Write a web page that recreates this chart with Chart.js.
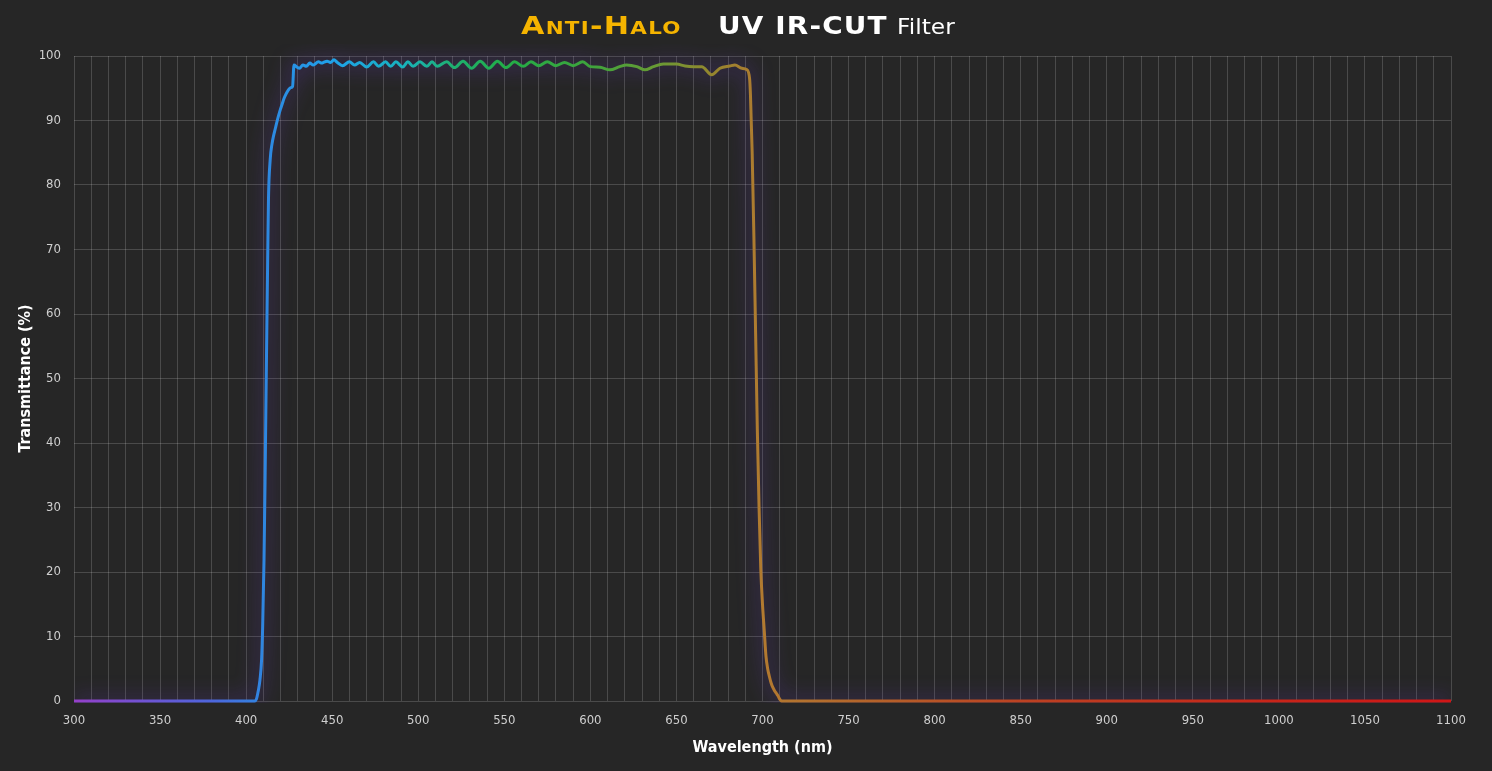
<!DOCTYPE html>
<html>
<head>
<meta charset="utf-8">
<script src="https://cdn.jsdelivr.net/npm/chart.js@4/dist/chart.umd.min.js"></script>
<style>
  html, body { margin: 0; padding: 0; background: #262626; }
  #wrap { position: relative; width: 1492px; height: 771px; }
  #title span {
    position: absolute; top: 12px; white-space: nowrap; display: inline-block;
    font-family: 'DejaVu Sans', sans-serif; color: #fff; transform-origin: left center;
  }
  #title .brand { left: 521px; color: #f5b400; font-weight: bold; font-variant: small-caps; font-size: 24px; letter-spacing: 1px; transform: scaleX(1.26); }
  #title .model { left: 718px; font-weight: bold; font-size: 24px; letter-spacing: 1px; transform: scaleX(1.16); }
  #title .kind { left: 897px; top: 14px; font-size: 22px; transform: scaleX(1.06); }
</style>
</head>
<body>
<div id="wrap">
  <div id="title"><span class="brand">Anti-Halo</span><span class="model">UV IR-CUT</span><span class="kind">Filter</span></div>
  <canvas id="spectrum" width="1492" height="771"></canvas>
</div>
<script>
// --- DATOS ---
const WAVELENGTHS = [
  300, 350, 400, 405, 406, 407, 408, 409, 409.6, 410.4, 411, 411.5, 412, 412.5, 413, 414,
  415, 416, 417, 418, 419, 420, 421, 422, 423, 424, 425, 426, 427, 427.8,
  429.5, 431, 433, 435, 437, 439, 442, 444, 445, 447, 449, 451, 453, 456, 460, 463,
  466, 470, 474, 477, 481, 484, 487, 491, 494, 497, 501, 505, 508, 511, 516.5, 521,
  526, 531, 536, 541, 546, 551, 556, 561, 565.5, 570, 575, 580, 585, 590, 595.5, 600,
  605.6, 611.4, 617, 621, 627, 631.7, 636.6, 642.4, 650, 655, 660, 664.7, 670.5, 675.3,
  681, 684, 688, 690.8, 692.5, 693, 694, 695, 696, 697, 698, 699, 700, 701, 702, 703,
  704, 705, 706, 707, 708, 709, 710, 711, 800, 900, 1000, 1100
];
const TRANSMITTANCE = [
  0, 0, 0, 0, 0.3, 1.5, 3.2, 6.5, 11.5, 22, 34, 46, 57, 68, 78, 84,
  86.3, 87.7, 88.8, 89.9, 90.9, 91.8, 92.6, 93.4, 94, 94.5, 94.9, 95.1, 95.3, 98.6,
  98.3, 98.1, 98.6, 98.4, 98.9, 98.6, 99.1, 98.9, 99.0, 99.2, 99.0, 99.4, 99.0, 98.5, 99.1, 98.6,
  99.0, 98.3, 99.1, 98.4, 99.1, 98.4, 99.1, 98.3, 99.1, 98.4, 99.1, 98.4, 99.1, 98.4, 99.1, 98.2,
  99.2, 98.1, 99.2, 98.1, 99.2, 98.2, 99.1, 98.4, 99.1, 98.5, 99.1, 98.5, 99.0, 98.5, 99.1, 98.35,
  98.25, 97.85, 98.35, 98.6, 98.35, 97.85, 98.35, 98.75, 98.75, 98.45, 98.35, 98.35, 97.1, 98.1,
  98.45, 98.6, 98.1, 97.9, 96.5, 94, 85, 72, 57, 42, 30, 20.5, 15, 11, 7, 5,
  3.8, 2.8, 2.1, 1.6, 1.2, 0.8, 0.3, 0, 0, 0, 0, 0
];

// colores del trazo según la longitud de onda
const COLOR_STOPS_NM = [300, 380, 410, 450, 490, 520, 550, 600, 640, 670, 700, 760, 850, 1000, 1100];
const COLOR_STOPS = ['#9440c8', '#4d66dc', '#2f86e0', '#1fa2ea', '#18b2bf', '#1eb070', '#22ad48', '#3ea43c',
  '#6a9a34', '#94862e', '#b27a30', '#b4642a', '#bc4222', '#c82418', '#d01616'];

const X_MIN = 300, X_MAX = 1100;
const TICK_FONT = "'DejaVu Sans Condensed', sans-serif";

function lineGradient(context) {
  const chart = context.chart;
  const { ctx, chartArea } = chart;
  if (!chartArea) return '#2f86e0';
  const g = ctx.createLinearGradient(chartArea.left, 0, chartArea.right, 0);
  COLOR_STOPS_NM.forEach((nm, i) => g.addColorStop((nm - X_MIN) / (X_MAX - X_MIN), COLOR_STOPS[i]));
  return g;
}

// brillo violeta alrededor de la curva
const glowPlugin = {
  id: 'glow',
  beforeDatasetDraw(chart) {
    chart.ctx.shadowColor = 'rgba(110, 60, 210, 0.85)';
    chart.ctx.shadowBlur = 20;
  },
  afterDatasetDraw(chart) {
    chart.ctx.shadowColor = 'rgba(0,0,0,0)';
    chart.ctx.shadowBlur = 0;
  }
};

const ctx = document.getElementById('spectrum').getContext('2d');
new Chart(ctx, {
  type: 'line',
  data: {
    datasets: [{
      data: WAVELENGTHS.map((nm, i) => ({ x: nm, y: TRANSMITTANCE[i] })),
      borderColor: lineGradient,
      borderWidth: 3,
      pointRadius: 0,
      cubicInterpolationMode: 'monotone',
      clip: { left: 0, top: 12, right: 0, bottom: 2 }
    }]
  },
  options: {
    responsive: false,
    animation: false,
    layout: { padding: { left: 10, right: 41, top: 56, bottom: 10 } },
    plugins: { legend: { display: false }, tooltip: { enabled: false } },
    scales: {
      x: {
        type: 'linear', min: X_MIN, max: X_MAX,
        grid: { color: 'rgba(255,255,255,0.17)', drawTicks: false },
        border: { display: false },
        ticks: {
          stepSize: 10, padding: 12, autoSkip: false, maxRotation: 0,
          color: '#cfcfcf', font: { family: TICK_FONT, size: 13 },
          callback: v => (v % 50 === 0 ? v : '')
        },
        title: { display: true, text: 'Wavelength (nm)', color: '#ffffff',
          font: { family: TICK_FONT, size: 16, weight: 'bold' }, padding: { top: 13 } },
        afterFit: s => { s.height = 60; }
      },
      y: {
        min: 0, max: 100,
        grid: { color: 'rgba(255,255,255,0.17)', drawTicks: false },
        border: { display: false },
        ticks: { stepSize: 10, padding: 13, color: '#cfcfcf', font: { family: TICK_FONT, size: 13 } },
        title: { display: true, text: 'Transmittance (%)', color: '#ffffff',
          font: { family: TICK_FONT, size: 16, weight: 'bold' }, padding: { top: 6, bottom: 0 } },
        afterFit: s => { s.width = 64; }
      }
    }
  },
  plugins: [glowPlugin]
});
</script>
</body>
</html>
